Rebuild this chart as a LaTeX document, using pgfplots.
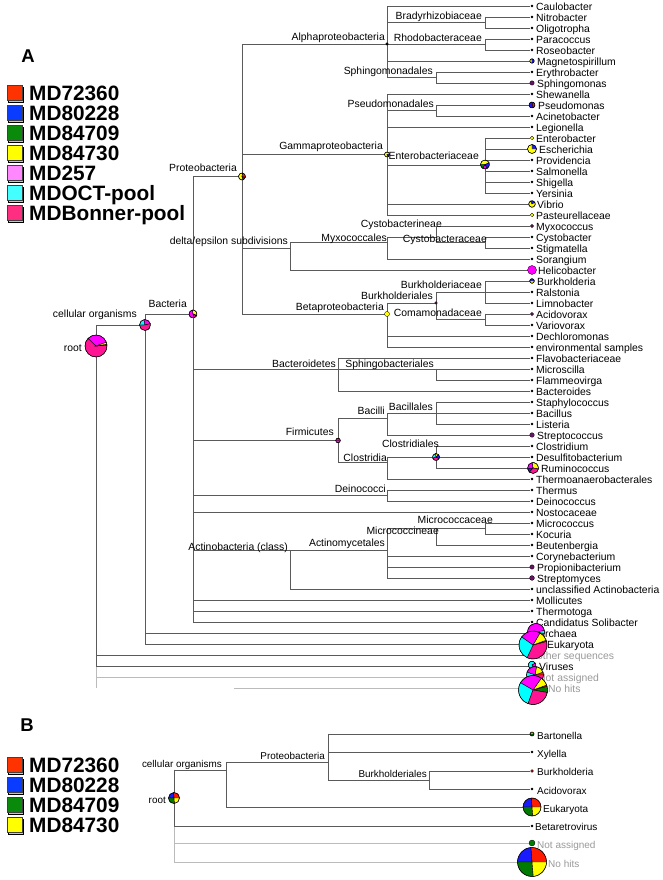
\documentclass[border=0pt]{standalone}
\usepackage{pgfplots}
\pgfplotsset{compat=1.18}
\usepackage{fontspec}
\setmainfont{Liberation Sans}

% pie colours
\definecolor{cR}{HTML}{FF1A00}
\definecolor{cB}{HTML}{1A1AFF}
\definecolor{cG}{HTML}{007A00}
\definecolor{cY}{HTML}{FFFF00}
\definecolor{cM}{HTML}{FF00FF}
\definecolor{cC}{HTML}{00FFFF}
\definecolor{cP}{HTML}{FF1493}
\definecolor{cV}{HTML}{6A1468}
% legend colours
\definecolor{lR}{HTML}{FF3300}
\definecolor{lB}{HTML}{0A3CFF}
\definecolor{lG}{HTML}{0A8A0A}
\definecolor{lY}{HTML}{FFFF00}
\definecolor{lM}{HTML}{FF88FF}
\definecolor{lC}{HTML}{44FFFF}
\definecolor{lP}{HTML}{FF2E80}
\definecolor{lineC}{HTML}{5A5A5A}
\definecolor{lineG}{HTML}{BBBBBB}
\definecolor{txtG}{HTML}{999999}

\newcommand{\pw}[3]{%
 \pgfpathmoveto{\pgfpointorigin}%
 \pgfpathlineto{\pgfpointpolar{#2}{\pgfplotmarksize}}%
 \pgfpatharc{#2}{#3}{\pgfplotmarksize}%
 \pgfpathclose
 \pgfsetfillcolor{#1}%
 \pgfusepath{fill,stroke}}
\newcommand{\pc}{\pgfpathcircle{\pgfpointorigin}{\pgfplotmarksize}\pgfusepath{stroke}}

\pgfdeclareplotmark{pRootA}{\pw{cP}{136}{365}\pw{cM}{20}{136}\pw{cY}{8}{20}\pw{cR}{5}{8}\pc}
\pgfdeclareplotmark{pCellA}{\pw{cC}{100}{180}\pw{cM}{15}{100}\pw{cP}{180}{375}\pc}
\pgfdeclareplotmark{pBactA}{\pw{cY}{-20}{100}\pw{cM}{100}{290}\pw{cP}{290}{330}\pw{cR}{330}{340}\pc}
\pgfdeclareplotmark{pProteoA}{\pw{cY}{80}{290}\pw{cB}{290}{350}\pw{cR}{350}{440}\pc}
\pgfdeclareplotmark{pGammaA}{\pw{cY}{0}{300}\pw{cB}{300}{360}\pc}
\pgfdeclareplotmark{pEntero}{\pw{cY}{20}{180}\pw{cG}{180}{240}\pw{cM}{240}{300}\pw{cB}{300}{380}\pc}
\pgfdeclareplotmark{pEsch}{\pw{cB}{0}{90}\pw{cY}{90}{360}\pc}
\pgfdeclareplotmark{pVibrio}{\pw{cB}{30}{120}\pw{cY}{120}{390}\pc}
\pgfdeclareplotmark{pMagneto}{\pw{cY}{90}{270}\pw{cB}{270}{450}\pc}
\pgfdeclareplotmark{pPseudo}{\pw{cB}{60}{300}\pw{cR}{300}{420}\pc}
\pgfdeclareplotmark{pBurkA}{\pw{cB}{0}{180}\pw{cY}{180}{360}\pc}
\pgfdeclareplotmark{pFirm}{\pw{cR}{0}{180}\pw{cM}{180}{360}\pc}
\pgfdeclareplotmark{pClostr}{\pw{cY}{40}{100}\pw{cC}{100}{200}\pw{cP}{200}{330}\pw{cB}{330}{400}\pc}
\pgfdeclareplotmark{pRumino}{\pw{cY}{-10}{100}\pw{cM}{100}{190}\pw{cB}{190}{230}\pw{cP}{230}{350}\pc}
\pgfdeclareplotmark{pArch}{\pw{cM}{10}{250}\pw{cP}{250}{350}\pw{cC}{350}{370}\pc}
\pgfdeclareplotmark{pEuk}{\pw{cP}{245}{375}\pw{cR}{15}{20}\pw{cY}{20}{60}\pw{cM}{60}{145}\pw{cC}{145}{245}\pc}
\pgfdeclareplotmark{pVir}{\pw{cC}{30}{300}\pw{cM}{300}{390}\pc}
\pgfdeclareplotmark{pNA}{\pw{cR}{0}{20}\pw{cY}{20}{80}\pw{cM}{80}{160}\pw{cC}{160}{250}\pw{cP}{250}{360}\pc}
\pgfdeclareplotmark{pNH}{\pw{cG}{350}{375}\pw{cR}{15}{20}\pw{cY}{20}{55}\pw{cM}{55}{150}\pw{cC}{150}{250}\pw{cP}{250}{350}\pc}
\pgfdeclareplotmark{pQuad}{\pw{cR}{0}{95}\pw{cB}{95}{180}\pw{cG}{180}{275}\pw{cY}{275}{360}\pc}
\pgfdeclareplotmark{pBart}{\pw{cY}{0}{180}\pw{cG}{180}{360}\pc}

\pgfplotsset{
 tree/.style={no markers, line width=0.9pt, color=lineC},
 treeg/.style={no markers, line width=0.9pt, color=lineG},
 pie/.style={only marks, on layer=axis foreground, mark=#1, mark options={draw=black, line width=0.4pt}},
 dot/.style={only marks, on layer=axis foreground, mark=*, mark options={draw=black, line width=0.3pt, fill=#1}},
}
\tikzset{
 labE/.style={anchor=east, inner sep=0pt, font=\fontsize{10.4}{12}\selectfont, text height=7.4pt, text depth=0pt},
 labW/.style={anchor=west, inner sep=0pt, font=\fontsize{10.4}{12}\selectfont, text height=7.4pt, text depth=0pt},
 labEb/.style={anchor=east, inner sep=0pt, font=\fontsize{9.9}{12}\selectfont, text height=7.1pt, text depth=0pt},
 labWb/.style={anchor=west, inner sep=0pt, font=\fontsize{10}{12}\selectfont, text height=7.2pt, text depth=0pt},
 legT/.style={anchor=west, inner sep=0pt, font=\fontsize{20.8}{24}\selectfont\bfseries, text height=14.9pt, text depth=0pt},
 panT/.style={anchor=center, inner sep=0pt, font=\fontsize{18.5}{20}\selectfont\bfseries, text height=13.3pt, text depth=0pt},
}
\newcommand{\hl}[3]{\addplot[tree] coordinates {(#1,#3) (#2,#3)};}
\newcommand{\hlg}[3]{\addplot[treeg] coordinates {(#1,#3) (#2,#3)};}
\newcommand{\vl}[3]{\addplot[tree] coordinates {(#1,#2) (#1,#3)};}
\newcommand{\vlg}[3]{\addplot[treeg] coordinates {(#1,#2) (#1,#3)};}
\newcommand{\lab}[3]{\node[labE] at (axis cs:#1,#2) {#3};}
\newcommand{\lf}[3]{\node[labW] at (axis cs:#1,#2) {#3};}
\newcommand{\lfg}[3]{\node[labW, text=txtG] at (axis cs:#1,#2) {#3};}
\newcommand{\labb}[3]{\node[labEb] at (axis cs:#1,#2) {#3};}
\newcommand{\lfb}[3]{\node[labWb] at (axis cs:#1,#2) {#3};}
\newcommand{\lfbg}[3]{\node[labWb, text=txtG] at (axis cs:#1,#2) {#3};}
\newcommand{\legsq}[3]{%
 \addplot[only marks, mark=square*, mark size=7.5pt, mark options={fill=gray!45, draw=none}] coordinates {(15.5,#2+1.5)};
 \addplot[only marks, mark=square*, mark size=7.5pt, mark options={fill=#1, draw=black!75, line width=0.5pt}] coordinates {(14.5,#2)};
 \node[legT] at (axis cs:29,#2) {#3};}

\begin{document}
\begin{tikzpicture}
\begin{axis}[
 set layers,
 width=662pt, height=880pt, scale only axis,
 xmin=0, xmax=662, ymin=0, ymax=880, y dir=reverse,
 hide axis, clip=false,
]
\addplot[draw=none, no markers] coordinates {(0,0) (662,880)};

%================ PANEL A: tree lines =================
% root
\vl{96}{325}{666}
\vlg{96}{666}{688}
\hl{96}{145}{325}
\hl{96}{530}{655}
\hl{96}{530}{666}
\hlg{96}{530}{677}
\hlg{234}{530}{688}
% cellular organisms
\vl{145}{314}{644}
\hl{145}{193}{314}
\hl{145}{530}{633}
\hl{145}{530}{644}
% Bacteria
\vl{193}{176.5}{622}
\hl{193}{242}{176.5}
\hl{193}{338}{369}
\hl{193}{338}{440.5}
\hl{193}{387}{495.5}
\hl{193}{530}{512}
\hl{193}{290}{550}
\hl{193}{530}{600}
\hl{193}{530}{611}
\hl{193}{530}{622}
% Proteobacteria
\vl{242}{44}{314}
\hl{242}{387}{44}
\hl{242}{387}{154.5}
\hl{242}{290}{248}
\hl{242}{387}{314}
% Alphaproteobacteria
\vl{387}{6}{77.5}
\hl{387}{530}{6}
\hl{387}{485}{22.5}
\hl{387}{485}{44.5}
\hl{387}{530}{61}
\hl{387}{436}{77.5}
\vl{485}{17}{28} \hl{485}{530}{17} \hl{485}{530}{28}
\vl{485}{39}{50} \hl{485}{530}{39} \hl{485}{530}{50}
\vl{436}{72}{83} \hl{436}{530}{72} \hl{436}{530}{83}
% Gammaproteobacteria
\vl{387}{94}{215}
\hl{387}{530}{94}
\hl{387}{436}{110.5} \vl{436}{105}{116} \hl{436}{530}{105} \hl{436}{530}{116}
\hl{387}{530}{127}
\hl{387}{485}{165.5} \vl{485}{138}{193}
\hl{485}{530}{138} \hl{485}{530}{149} \hl{485}{530}{160}
\hl{485}{530}{171} \hl{485}{530}{182} \hl{485}{530}{193}
\hl{387}{530}{204} \hl{387}{530}{215}
% delta/epsilon
\vl{290}{242.5}{270}
\hl{290}{387}{242.5}
\hl{290}{530}{270}
\vl{387}{237}{259} \hl{387}{436}{237} \hl{387}{530}{259}
\vl{436}{226}{242.5} \hl{436}{530}{226} \hl{436}{485}{242.5}
\vl{485}{237}{248} \hl{485}{530}{237} \hl{485}{530}{248}
% Betaproteobacteria
\vl{387}{303}{347} \hl{387}{436}{303} \hl{387}{530}{336} \hl{387}{530}{347}
\vl{436}{292}{319.5} \hl{436}{485}{292} \hl{436}{485}{319.5}
\vl{485}{281}{303} \hl{485}{530}{281} \hl{485}{530}{292} \hl{485}{530}{303}
\vl{485}{314}{325} \hl{485}{530}{314} \hl{485}{530}{325}
% Bacteroidetes
\vl{338}{358}{391} \hl{338}{530}{358} \hl{338}{436}{369} \hl{338}{530}{391}
\vl{436}{369}{380} \hl{436}{530}{369} \hl{436}{530}{380}
% Firmicutes
\vl{338}{418.5}{462.5} \hl{338}{387}{418.5} \hl{338}{387}{462.5}
\vl{387}{413}{435} \hl{387}{436}{413} \hl{387}{530}{435}
\vl{436}{402}{424} \hl{436}{530}{402} \hl{436}{530}{413} \hl{436}{530}{424}
\vl{387}{457}{479} \hl{387}{436}{457} \hl{387}{530}{479}
\vl{436}{446}{468} \hl{436}{530}{446} \hl{436}{530}{457} \hl{436}{530}{468}
% Deinococci
\vl{387}{490}{501} \hl{387}{530}{490} \hl{387}{530}{501}
% Actinobacteria
\vl{290}{550}{589} \hl{290}{387}{550} \hl{290}{530}{589}
\vl{387}{528}{578} \hl{387}{436}{528}
\hl{387}{530}{556} \hl{387}{530}{567} \hl{387}{530}{578}
\vl{436}{528}{545} \hl{436}{485}{528} \hl{436}{530}{545}
\vl{485}{523}{534} \hl{485}{530}{523} \hl{485}{530}{534}

%================ PANEL B: tree lines =================
\vl{174}{770}{826} \vlg{174}{826}{862}
\hl{174}{226}{770}
\vl{226}{762}{807}
\hl{226}{328}{762}
\hl{226}{530}{807}
\vl{328}{734}{780}
\hl{328}{530}{734} \hl{328}{530}{752} \hl{328}{429}{780}
\vl{429}{771}{789} \hl{429}{530}{771} \hl{429}{530}{789}
\hl{174}{530}{826}
\hlg{174}{530}{843} \hlg{174}{530}{862}

% leaf dots
\addplot[only marks, mark=*, mark size=1pt, color=black] coordinates {
(532,6)(532,17)(532,28)(532,39)(532,50)(532,72)(532,94)(532,116)(532,127)
(532,160)(532,171)(532,182)(532,193)(532,237)(532,248)(532,259)
(532,292)(532,303)(532,325)(532,336)(532,347)(532,358)(532,369)(532,380)(532,391)
(532,402)(532,413)(532,424)(532,446)(532,457)(532,479)(532,490)(532,501)(532,512)
(532,523)(532,534)(532,545)(532,556)(532,589)(532,600)(532,611)(532,622)
(532,752)(532,789)(532,826)};

%================ labels A =================
\lab{385}{37}{Alphaproteobacteria}
\lab{482}{16}{Bradyrhizobiaceae}
\lab{482}{38}{Rhodobacteraceae}
\lab{433}{71}{Sphingomonadales}
\lab{383}{146}{Gammaproteobacteria}
\lab{434}{104}{Pseudomonadales}
\lab{479}{156}{Enterobacteriaceae}
\lab{442}{224}{Cystobacterineae}
\lab{387}{238}{Myxococcales}
\lab{487}{239}{Cystobacteraceae}
\lab{288}{241}{delta/epsilon subdivisions}
\lab{482}{285}{Burkholderiaceae}
\lab{433}{296}{Burkholderiales}
\lab{384}{307}{Betaproteobacteria}
\lab{482}{313}{Comamonadaceae}
\lab{336}{364}{Bacteroidetes}
\lab{434}{364}{Sphingobacteriales}
\lab{334}{432}{Firmicutes}
\lab{385}{411}{Bacilli}
\lab{433}{407}{Bacillales}
\lab{439}{444}{Clostridiales}
\lab{387}{458}{Clostridia}
\lab{386}{489}{Deinococci}
\lab{493}{520}{Micrococcaceae}
\lab{439}{531}{Micrococcineae}
\lab{385}{543}{Actinomycetales}
\lab{288}{547}{Actinobacteria (class)}
\lab{237}{168}{Proteobacteria}
\lab{187}{304}{Bacteria}
\lab{137}{314}{cellular organisms}
\lab{82}{348}{root}

\lf{536}{7}{Caulobacter}
\lf{536}{18}{Nitrobacter}
\lf{536}{29}{Oligotropha}
\lf{536}{40}{Paracoccus}
\lf{536}{51}{Roseobacter}
\lf{537}{62}{Magnetospirillum}
\lf{536}{73}{Erythrobacter}
\lf{537}{84}{Sphingomonas}
\lf{536}{95}{Shewanella}
\lf{538}{106}{Pseudomonas}
\lf{536}{117}{Acinetobacter}
\lf{536}{128}{Legionella}
\lf{536}{139}{Enterobacter}
\lf{539}{150}{Escherichia}
\lf{536}{161}{Providencia}
\lf{536}{172}{Salmonella}
\lf{536}{183}{Shigella}
\lf{536}{194}{Yersinia}
\lf{537}{205}{Vibrio}
\lf{536}{216}{Pasteurellaceae}
\lf{536}{227}{Myxococcus}
\lf{536}{238}{Cystobacter}
\lf{536}{249}{Stigmatella}
\lf{536}{260}{Sorangium}
\lf{538}{271}{Helicobacter}
\lf{537}{282}{Burkholderia}
\lf{536}{293}{Ralstonia}
\lf{536}{304}{Limnobacter}
\lf{536}{315}{Acidovorax}
\lf{536}{326}{Variovorax}
\lf{536}{337}{Dechloromonas}
\lf{536}{348}{environmental samples}
\lf{536}{359}{Flavobacteriaceae}
\lf{536}{370}{Microscilla}
\lf{536}{381}{Flammeovirga}
\lf{536}{392}{Bacteroides}
\lf{536}{403}{Staphylococcus}
\lf{536}{414}{Bacillus}
\lf{536}{425}{Listeria}
\lf{537}{436}{Streptococcus}
\lf{536}{447}{Clostridium}
\lf{536}{458}{Desulfitobacterium}
\lf{541}{469}{Ruminococcus}
\lf{536}{480}{Thermoanaerobacterales}
\lf{536}{491}{Thermus}
\lf{536}{502}{Deinococcus}
\lf{536}{513}{Nostocaceae}
\lf{536}{524}{Micrococcus}
\lf{536}{535}{Kocuria}
\lf{536}{546}{Beutenbergia}
\lf{536}{557}{Corynebacterium}
\lf{537}{568}{Propionibacterium}
\lf{537}{579}{Streptomyces}
\lf{536}{590}{unclassified Actinobacteria}
\lf{536}{601}{Mollicutes}
\lf{536}{612}{Thermotoga}
\lf{536}{623}{Candidatus Solibacter}
\lf{538}{634}{Archaea}
\lf{547}{645}{Eukaryota}
\lfg{537}{656}{other sequences}
\lf{539}{667}{Viruses}
\lfg{538}{678}{Not assigned}
\lfg{548}{689}{No hits}

%================ labels B =================
\labb{222}{764}{cellular organisms}
\labb{325}{756}{Proteobacteria}
\labb{427}{774}{Burkholderiales}
\labb{166}{800}{root}
\lfb{537}{736}{Bartonella}
\lfb{537}{754}{Xylella}
\lfb{537}{772}{Burkholderia}
\lfb{537}{791}{Acidovorax}
\lfb{543}{809}{Eukaryota}
\lfb{535}{827}{Betaretrovirus}
\lfbg{537}{845}{Not assigned}
\lfbg{548}{864}{No hits}

%================ pies A =================
\addplot[pie=pRootA, mark size=11pt] coordinates {(96,346)};
\addplot[pie=pCellA, mark size=5.5pt] coordinates {(145,325)};
\addplot[pie=pBactA, mark size=4pt] coordinates {(193,314)};
\addplot[pie=pProteoA, mark size=3.5pt] coordinates {(242,176.5)};
\addplot[dot=black, mark size=1.3pt] coordinates {(387,44)};
\addplot[pie=pGammaA, mark size=2.5pt] coordinates {(387,154.5)};
\addplot[pie=pEntero, mark size=4.5pt] coordinates {(485,164.5)};
\addplot[dot=cY, mark size=2.5pt] coordinates {(387,314)};
\addplot[pie=pFirm, mark size=2.3pt] coordinates {(338,440.5)};
\addplot[pie=pClostr, mark size=3.5pt] coordinates {(436,457)};
\addplot[dot=cV, mark size=1.3pt] coordinates {(436,303)};
\addplot[pie=pMagneto, mark size=2.2pt] coordinates {(532,61)};
\addplot[dot=cV, mark size=2.2pt] coordinates {(532,83)};
\addplot[pie=pPseudo, mark size=3pt] coordinates {(532,105)};
\addplot[dot=cY, mark size=1.8pt] coordinates {(532,138)};
\addplot[pie=pEsch, mark size=4.5pt] coordinates {(532,149)};
\addplot[pie=pVibrio, mark size=3.3pt] coordinates {(532,204)};
\addplot[dot=cY, mark size=1.8pt] coordinates {(532,215)};
\addplot[dot=cV, mark size=1.6pt] coordinates {(532,226)};
\addplot[dot=cM, mark size=4.5pt] coordinates {(532,270)};
\addplot[pie=pBurkA, mark size=2.3pt] coordinates {(532,281)};
\addplot[dot=cV, mark size=1.7pt] coordinates {(532,314)};
\addplot[dot=cV, mark size=2.3pt] coordinates {(532,435)};
\addplot[pie=pRumino, mark size=5.5pt] coordinates {(533,468)};
\addplot[dot=cV, mark size=2.2pt] coordinates {(532,567)};
\addplot[dot=cV, mark size=2.4pt] coordinates {(532,578)};
\addplot[pie=pArch, mark size=8.5pt] coordinates {(536,632)};
\addplot[pie=pEuk, mark size=14pt] coordinates {(533,645)};
\addplot[pie=pVir, mark size=3.8pt] coordinates {(532,665)};
\addplot[pie=pNA, mark size=8.5pt] coordinates {(535,675)};
\addplot[pie=pNH, mark size=14.5pt] coordinates {(533,690)};

%================ pies B =================
\addplot[pie=pQuad, mark size=5.5pt] coordinates {(174,798)};
\addplot[pie=pBart, mark size=2pt] coordinates {(532,734)};
\addplot[dot=cR!60!black, mark size=1.5pt] coordinates {(532,771)};
\addplot[pie=pQuad, mark size=9pt] coordinates {(532,807)};
\addplot[dot=cG, mark size=3pt] coordinates {(532,843)};
\addplot[pie=pQuad, mark size=14.5pt] coordinates {(532,862)};

%================ legends =================
\node[panT] at (axis cs:28,56) {A};
\legsq{lR}{93}{MD72360}
\legsq{lB}{113}{MD80228}
\legsq{lG}{133}{MD84709}
\legsq{lY}{153}{MD84730}
\legsq{lM}{173}{MD257}
\legsq{lC}{193}{MDOCT-pool}
\legsq{lP}{213}{MDBonner-pool}

\node[panT] at (axis cs:27,725) {B};
\legsq{lR}{765}{MD72360}
\legsq{lB}{785}{MD80228}
\legsq{lG}{805}{MD84709}
\legsq{lY}{825}{MD84730}
\end{axis}
\end{tikzpicture}
\end{document}
